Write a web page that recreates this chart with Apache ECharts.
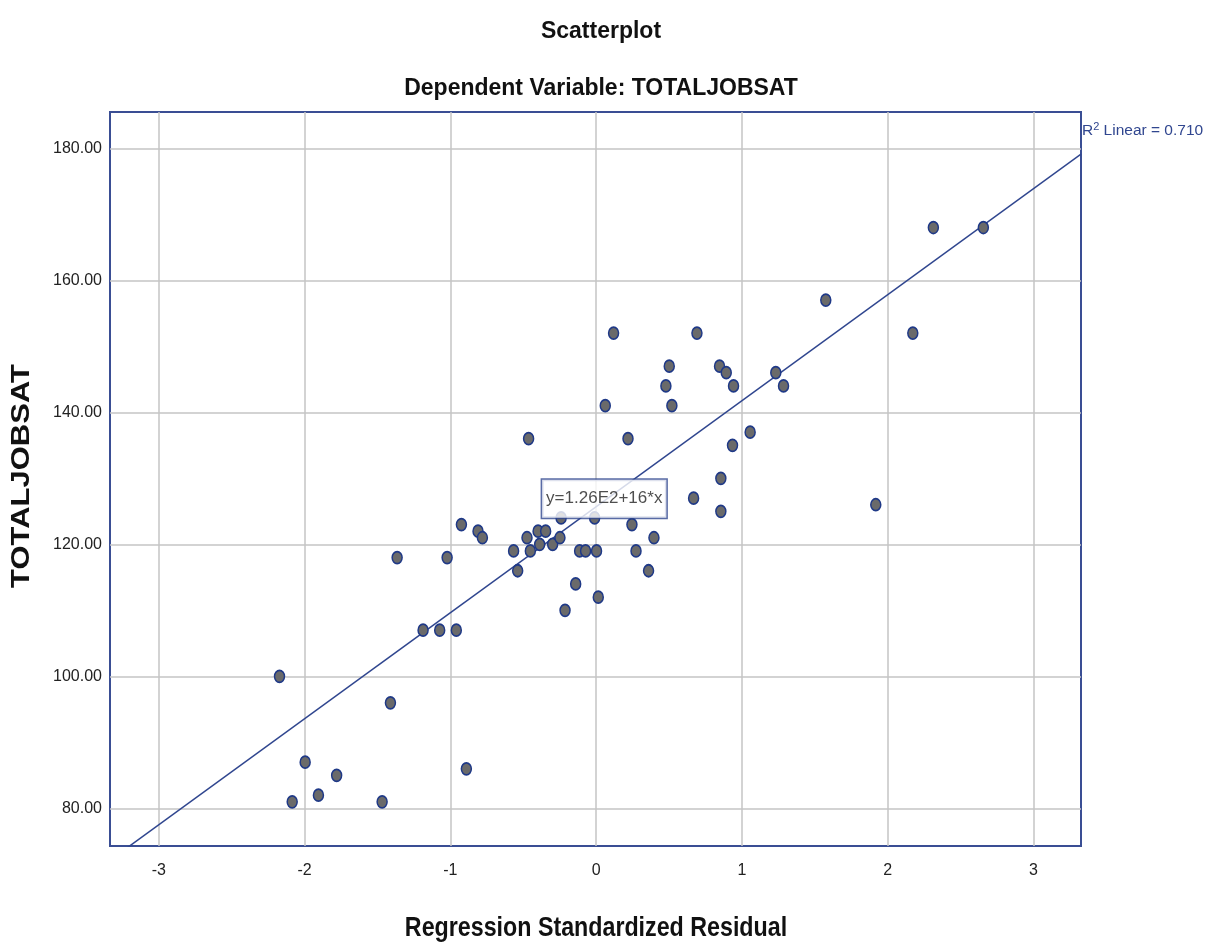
<!DOCTYPE html>
<html>
<head>
<meta charset="utf-8">
<title>Scatterplot</title>
<script src="https://cdn.jsdelivr.net/npm/echarts@6/dist/echarts.min.js"></script>
<style>
  html, body { margin: 0; padding: 0; background: #ffffff; }
  #chart { width: 1218px; height: 943px; }
</style>
</head>
<body>
<div id="chart"></div>
<script>
// Regression standardized residual (x) and TOTALJOBSAT (y)
const residuals = [
  -2.172, -1.996, -2.085, -1.905, -1.78, -1.468, -1.411, -1.365, -1.187, -1.073,
  -1.022, -0.959, -0.924, -0.89, -0.81, -0.78, -0.463, -0.566, -0.538, -0.474,
  -0.451, -0.398, -0.387, -0.346, -0.298, -0.248, -0.24, -0.213, -0.14, -0.113,
  -0.072, 0.003, -0.01, 0.015, 0.063, 0.12, 0.219, 0.246, 0.274, 0.36,
  0.397, 0.479, 0.502, 0.52, 0.669, 0.692, 0.856, 0.856, 0.847, 0.893,
  0.943, 0.936, 1.057, 1.233, 1.286, 1.576, 1.919, 2.173, 2.314, 2.657
];
const jobSat = [
  100, 87, 81, 82, 85, 81, 96, 118, 107, 107,
  118, 107, 123, 86, 122, 121, 136, 119, 116, 121,
  119, 122, 120, 122, 120, 121, 124, 110, 114, 119,
  119, 119, 124, 112, 141, 152, 136, 123, 119, 116,
  121, 144, 147, 141, 127, 152, 130, 125, 147, 146,
  144, 135, 137, 146, 144, 157, 126, 152, 168, 168
];

// fit line as printed by SPSS
const fitIntercept = 125.7;
const fitSlope = 16.06;
const fitText = 'y=1.26E2+16*x';
const r2Text = '0.710';

const xRange = [-3.335, 3.327];
const yRange = [74.3, 185.5];

const font = "'Liberation Sans', Arial, sans-serif";
const navy = '#30468f';

const points = residuals.map((x, i) => [x, jobSat[i]]);
const fitLine = xRange.map(x => [x, fitIntercept + fitSlope * x]);

const myChart = echarts.init(document.getElementById('chart'));

const option = {
  animation: false,
  backgroundColor: '#ffffff',
  title: [
    {
      text: 'Scatterplot',
      left: 596, top: 15,
      textAlign: 'center',
      textStyle: { fontFamily: font, fontSize: 23, fontWeight: 'bold', color: '#111' }
    },
    {
      text: 'Dependent Variable: TOTALJOBSAT',
      left: 596, top: 72,
      textAlign: 'center',
      textStyle: { fontFamily: font, fontSize: 23, fontWeight: 'bold', color: '#111' }
    }
  ],
  grid: {
    left: 110, right: 137, top: 112, bottom: 97,
    show: true,
    borderColor: '#3a4e94',
    borderWidth: 2,
    outerBoundsMode: 'none'
  },
  xAxis: {
    type: 'value',
    min: xRange[0],
    max: xRange[1],
    splitNumber: 7,
    axisLine: { show: false },
    axisTick: { show: false },
    axisLabel: {
      showMinLabel: false,
      showMaxLabel: false,
      margin: 17,
      fontFamily: font, fontSize: 16, color: '#222'
    },
    splitLine: { showMinLine: false, showMaxLine: false, lineStyle: { color: '#c4c4c4', width: 1.5 } }
  },
  yAxis: {
    type: 'value',
    min: yRange[0],
    max: yRange[1],
    splitNumber: 6,
    axisLine: { show: false },
    axisTick: { show: false },
    axisLabel: {
      showMinLabel: false,
      showMaxLabel: false,
      margin: 8,
      fontFamily: font, fontSize: 16, color: '#222',
      formatter: v => v.toFixed(2)
    },
    splitLine: { showMinLine: false, showMaxLine: false, lineStyle: { color: '#c4c4c4', width: 1.5 } }
  },
  graphic: [
    {
      // x axis title, squeezed like the narrow SPSS font
      type: 'text',
      x: 596, y: 928,
      scaleX: 0.83,
      style: {
        text: 'Regression Standardized Residual',
        fontFamily: font, fontSize: 28, fontWeight: 'bold', fill: '#111',
        align: 'center', verticalAlign: 'middle'
      }
    },
    {
      type: 'text',
      x: 22, y: 476,
      rotation: Math.PI / 2,
      scaleY: 0.85,
      style: {
        text: 'TOTALJOBSAT',
        fontFamily: font, fontSize: 31, fontWeight: 'bold', fill: '#111',
        align: 'center', verticalAlign: 'middle'
      }
    },
    {
      type: 'text',
      left: 1082, top: 121,
      style: {
        text: '{r|R}{s|2}{r| Linear = ' + r2Text + '}',
        rich: {
          r: { fontFamily: font, fontSize: 15.5, fill: navy, verticalAlign: 'bottom' },
          s: { fontFamily: font, fontSize: 11, fill: navy, verticalAlign: 'top', padding: [0, 0, 7, 0] }
        }
      }
    }
  ],
  series: [
    {
      name: 'Fit',
      type: 'line',
      data: fitLine,
      symbol: 'none',
      clip: true,
      lineStyle: { color: navy, width: 1.5 },
      z: 2
    },
    {
      name: 'TOTALJOBSAT',
      type: 'scatter',
      data: points,
      symbol: 'circle',
      symbolSize: [10, 12],
      itemStyle: { color: '#6a6a6a', borderColor: '#1f3987', borderWidth: 1.6, opacity: 1 },
      z: 3
    },
    {
      name: 'FitLabel',
      type: 'scatter',
      data: [[0.056, 126.9]],
      symbolSize: 0,
      silent: true,
      z: 5,
      label: {
        show: true,
        position: 'inside',
        formatter: fitText,
        fontFamily: font,
        fontSize: 17,
        color: '#222',
        backgroundColor: '#ffffff',
        borderColor: navy,
        borderWidth: 1.5,
        padding: [11, 4, 10, 4]
      }
    }
  ]
};

myChart.setOption(option);

window.addEventListener('resize', () => {
  myChart.resize();
});
</script>
</body>
</html>
